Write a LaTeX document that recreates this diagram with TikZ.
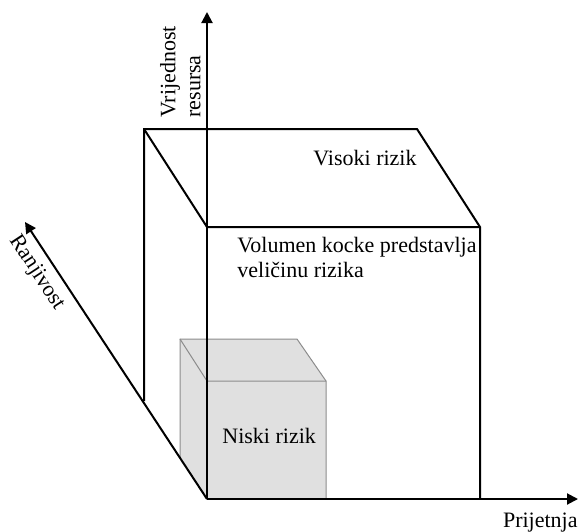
\documentclass[tikz,border=0pt]{standalone}
\usepackage{fontspec}
\setmainfont{Liberation Serif}
\usetikzlibrary{arrows.meta}
\begin{document}
\begin{tikzpicture}[x=0.5pt, y=-0.5pt,
  axis/.style={line width=1pt, -{Triangle[length=5.5pt,width=5.5pt]}},
  cubeedge/.style={line width=1pt},
  smalledge/.style={line width=0.5pt, draw=black!45},
  every node/.style={font=\fontsize{11}{12.5}\selectfont, inner sep=0pt}]
\useasboundingbox (0,0) rectangle (579,531);

% Axis points
\coordinate (O) at (207,499);
\coordinate (ytip) at (207,12);
\coordinate (xtip) at (578,499);
\coordinate (ztip) at (25,222);

% Small cube (grey, low risk)
\fill[black!12] (O) -- (180,457) -- (180,339) -- (297,339) -- (326,381) -- (326,499) -- cycle;
\draw[smalledge] (180,457) -- (180,339) -- (297,339) -- (326,381) -- (326,499);
\draw[smalledge] (180,339) -- (207,381) -- (326,381);

% Large cube
\draw[cubeedge] (144,401) -- (144,129) -- (417,129) -- (480,227) -- (480,499);
\draw[cubeedge] (144,129) -- (207,227) -- (480,227);

% Axes
\draw[axis] (O) -- (ytip);
\draw[axis] (O) -- (xtip);
\draw[axis] (O) -- (ztip);

% Labels
\node[rotate=90, align=left, anchor=south west] (vrijednost) at (201,118) {Vrijednost\\resursa};
\node[anchor=base east] (prijetnja) at (578,527) {Prijetnja};
\node[rotate=-56.7] (ranjivost) at (37,273) {Ranjivost};
\node[anchor=base east] (visoki) at (417,165) {Visoki rizik};
\node[anchor=base west, align=left] (volumen) at (237,277) {Volumen kocke predstavlja\\veličinu rizika};
\node[anchor=base west] (niski) at (222,443) {Niski rizik};

\end{tikzpicture}
\end{document}
